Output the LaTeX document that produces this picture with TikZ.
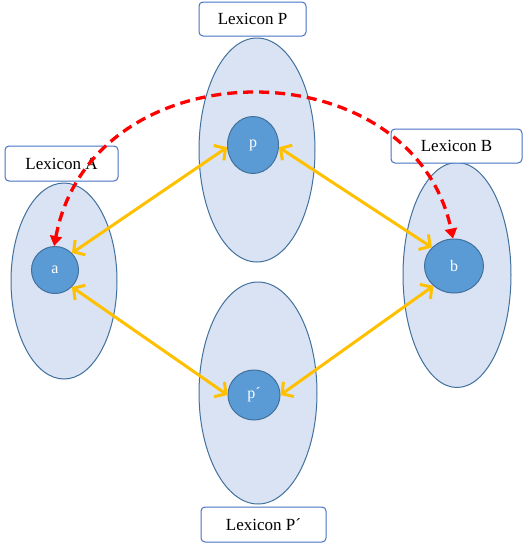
\documentclass[tikz,border=0pt]{standalone}
\usepackage{fontspec}
\setmainfont{Liberation Serif}
\usetikzlibrary{shapes.geometric,arrows.meta}
\definecolor{lexfill}{RGB}{218,227,243}
\definecolor{lexline}{RGB}{65,113,156}
\definecolor{dotfill}{RGB}{91,155,213}
\definecolor{boxline}{RGB}{68,114,196}
\definecolor{gold}{RGB}{255,192,0}
\begin{document}
\begin{tikzpicture}[x=1pt,y=-1pt,
  lex/.style={ellipse,draw=lexline,fill=lexfill,line width=1pt,inner sep=0pt},
  dot/.style={ellipse,draw=lexline,fill=dotfill,line width=1pt,inner sep=0pt,text=white,font=\fontsize{16}{18}\selectfont},
  lbl/.style={draw=boxline,fill=white,rounded corners=4pt,line width=1pt,inner sep=0pt,font=\fontsize{17}{20}\selectfont},
  link/.style={draw=gold,line width=3pt,{Straight Barb[length=8pt,width=18pt]}-{Straight Barb[length=8pt,width=18pt]}},
  jump/.style={draw=red,line width=3.3pt,dash pattern=on 10pt off 6pt,{Triangle[length=10pt,width=12pt]}-{Triangle[length=10pt,width=12pt]}}
]
\useasboundingbox[fill=white] (0,0) rectangle (523,544);
% lexicon ellipses
\node[lex,minimum width=106pt,minimum height=196pt] (EA) at (64,281) {};
\node[lex,minimum width=116pt,minimum height=224pt] (EP) at (257,150) {};
\node[lex,minimum width=118pt,minimum height=222pt] (EQ) at (258,393) {};
\node[lex,minimum width=108pt,minimum height=225pt] (EB) at (457,275) {};
% labels
\node[lbl,minimum width=107pt,minimum height=34pt] (LP) at (252.5,19) {Lexicon P};
\node[lbl,minimum width=113pt,minimum height=35pt] (LA) at (61.5,163.5) {Lexicon A};
\node[lbl,minimum width=131pt,minimum height=34pt] (LB) at (456.5,146) {Lexicon B};
\node[lbl,minimum width=125pt,minimum height=35pt] (LQ) at (263.5,524.5) {Lexicon P´};
% items
\node[dot,minimum width=47pt,minimum height=47pt] (a) at (55,270) {a};
\node[dot,minimum width=51pt,minimum height=57pt] (p) at (253,145) {p};
\node[dot,minimum width=52pt,minimum height=50pt] (q) at (254,395) {p´};
\node[dot,minimum width=59pt,minimum height=54pt] (b) at (454,266) {b};
% yellow links
\draw[link] (a.45) -- (p.185);
\draw[link] (a.-45) -- (q.180);
\draw[link] (p.-5) -- (b.140);
\draw[link] (q.0) -- (b.-136);
% red jump
\draw[jump] (a.92) .. controls (92,45) and (412,45) .. (b.92);
\end{tikzpicture}
\end{document}
